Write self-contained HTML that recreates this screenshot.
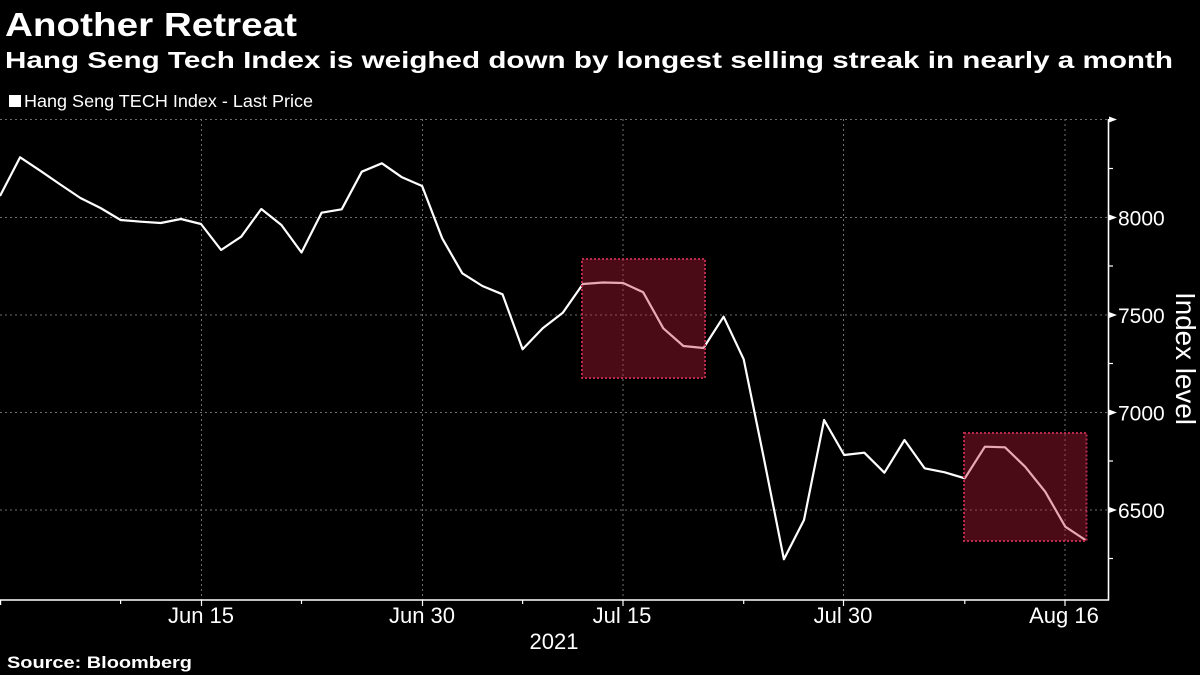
<!DOCTYPE html>
<html>
<head>
<meta charset="utf-8">
<style>
  html, body { margin: 0; padding: 0; background: #000; }
  body { width: 1200px; height: 675px; overflow: hidden; }
  svg { display: block; }
  text { font-family: "Liberation Sans", "DejaVu Sans", sans-serif; fill: #fff; }
</style>
</head>
<body>
<svg width="1200" height="675" viewBox="0 0 1200 675" xmlns="http://www.w3.org/2000/svg">
  <rect x="0" y="0" width="1200" height="675" fill="#000"/>

  <!-- Titles -->
  <text x="5" y="36" font-size="33" font-weight="bold" textLength="292" lengthAdjust="spacingAndGlyphs">Another Retreat</text>
  <text x="5" y="68" font-size="23" font-weight="bold" textLength="1168" lengthAdjust="spacingAndGlyphs">Hang Seng Tech Index is weighed down by longest selling streak in nearly a month</text>

  <!-- Legend -->
  <rect x="9" y="95" width="12" height="12" fill="#fff"/>
  <text x="24" y="107" font-size="17.5" textLength="289" lengthAdjust="spacingAndGlyphs">Hang Seng TECH Index - Last Price</text>

  <!-- Gridlines -->
  <g stroke="#6e6e6e" stroke-width="1" stroke-dasharray="2,3" fill="none">
    <line x1="0" y1="119.5" x2="1108" y2="119.5"/>
    <line x1="0" y1="217.5" x2="1108" y2="217.5"/>
    <line x1="0" y1="315" x2="1108" y2="315"/>
    <line x1="0" y1="412.5" x2="1108" y2="412.5"/>
    <line x1="0" y1="510" x2="1108" y2="510"/>
    <line x1="201.5" y1="119" x2="201.5" y2="600"/>
    <line x1="422.5" y1="119" x2="422.5" y2="600"/>
    <line x1="623" y1="119" x2="623" y2="600"/>
    <line x1="843.5" y1="119" x2="843.5" y2="600"/>
    <line x1="1065" y1="119" x2="1065" y2="600"/>
  </g>

  <!-- Data line -->
  <polyline fill="none" stroke="#fff" stroke-width="2.2" stroke-linejoin="round" points="
    0,196 20.1,157.3 40.2,170.7 60.3,184.5 80.4,198 100.5,208 120.6,220 140.7,221.7 160.8,223 180.9,219
    201,224 221.1,250 241.2,236.7 261.3,209 281.4,225 301.5,252.5 321.6,212.7 341.7,209.3 361.8,171.7 381.9,163.3
    402,177.3 422.1,186 442.2,238.3 462.3,273.3 482.4,286 502.5,294.3 522.6,349.3 542.7,328.3 562.8,312.7 582.9,284
    603,282.5 623.1,283 643.2,292.3 663.3,328.3 683.4,346 703.5,348 723.6,316.7 743.7,359.3 763.8,458 783.9,559.3
    804,520 824.1,420 844.2,455 864.3,452.7 884.4,472.7 904.5,440 924.6,468.3 944.7,472.3 964.8,478.3 984.9,446.7
    1005,447.3 1025.1,466.7 1045.2,491.7 1065.3,526.7 1085.4,540"/>

  <!-- Highlight boxes -->
  <rect x="582" y="259" width="123" height="119" fill="rgba(195,29,60,0.38)" stroke="#b82a4a" stroke-width="2" stroke-dasharray="2,2"/>
  <rect x="964" y="433" width="122.5" height="108" fill="rgba(195,29,60,0.38)" stroke="#b82a4a" stroke-width="2" stroke-dasharray="2,2"/>

  <!-- Axes -->
  <line x1="1108.5" y1="119" x2="1108.5" y2="600.5" stroke="#fff" stroke-width="1.6"/>
  <line x1="0" y1="600" x2="1109" y2="600" stroke="#fff" stroke-width="1.6"/>

  <!-- Y major ticks (arrow style) -->
  <g fill="#fff">
    <polygon points="1109,116.5 1117,119.5 1109,122.5"/>
    <polygon points="1109,214.5 1117,217.5 1109,220.5"/>
    <polygon points="1109,312 1117,315 1109,318"/>
    <polygon points="1109,409.5 1117,412.5 1109,415.5"/>
    <polygon points="1109,507 1117,510 1109,513"/>
  </g>
  <!-- Y minor ticks -->
  <g stroke="#fff" stroke-width="1.2">
    <line x1="1109" y1="168.5" x2="1113" y2="168.5"/>
    <line x1="1109" y1="266" x2="1113" y2="266"/>
    <line x1="1109" y1="363.5" x2="1113" y2="363.5"/>
    <line x1="1109" y1="461" x2="1113" y2="461"/>
    <line x1="1109" y1="558.5" x2="1113" y2="558.5"/>
  </g>

  <!-- X ticks -->
  <g stroke="#fff" stroke-width="1.2">
    <line x1="0.6" y1="600" x2="0.6" y2="605"/>
    <line x1="120.6" y1="600" x2="120.6" y2="604"/>
    <line x1="201.5" y1="600" x2="201.5" y2="606"/>
    <line x1="301.5" y1="600" x2="301.5" y2="604"/>
    <line x1="422.5" y1="600" x2="422.5" y2="606"/>
    <line x1="522.6" y1="600" x2="522.6" y2="604"/>
    <line x1="623" y1="600" x2="623" y2="606"/>
    <line x1="743.7" y1="600" x2="743.7" y2="604"/>
    <line x1="843.5" y1="600" x2="843.5" y2="606"/>
    <line x1="964.8" y1="600" x2="964.8" y2="604"/>
    <line x1="1065" y1="600" x2="1065" y2="606"/>
  </g>

  <!-- Y labels -->
  <g font-size="21">
    <text x="1118" y="225.5">8000</text>
    <text x="1118" y="323">7500</text>
    <text x="1118" y="420.5">7000</text>
    <text x="1118" y="518">6500</text>
  </g>
  <text transform="translate(1176,358.5) rotate(90)" font-size="28" text-anchor="middle" textLength="133" lengthAdjust="spacingAndGlyphs">Index level</text>

  <!-- X labels -->
  <g font-size="22" text-anchor="middle">
    <text x="201" y="623">Jun 15</text>
    <text x="422" y="623">Jun 30</text>
    <text x="622" y="623">Jul 15</text>
    <text x="843" y="623">Jul 30</text>
    <text x="1064" y="623">Aug 16</text>
    <text x="554" y="649">2021</text>
  </g>

  <!-- Source -->
  <text x="7" y="668" font-size="17" font-weight="bold" textLength="185" lengthAdjust="spacingAndGlyphs">Source: Bloomberg</text>
</svg>
</body>
</html>
